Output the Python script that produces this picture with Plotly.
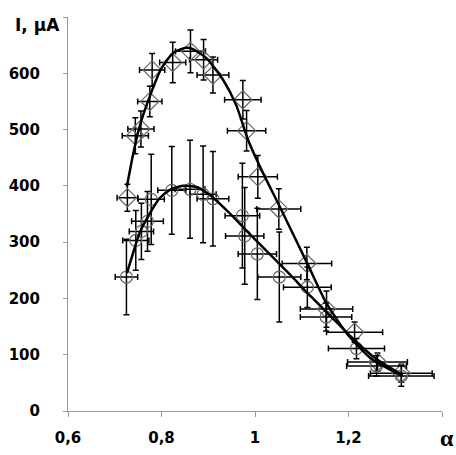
import plotly.graph_objects as go

# Series 1 (diamonds)
d_alpha = [0.727, 0.744, 0.756, 0.775, 0.780, 0.824, 0.862, 0.890, 0.910, 0.974, 0.982,
           1.006, 1.051, 1.111, 1.153, 1.213, 1.262, 1.313]
d_I = [379, 489, 501, 550, 606, 619, 639, 624, 597, 553, 498, 416, 359, 262, 181, 140, 87, 67]
d_Ierr = [24, 32, 32, 27, 29, 36, 38, 36, 32, 34, 36, 38, 36, 29, 32, 18, 16, 16]
d_aerr = [0.022, 0.028, 0.028, 0.026, 0.027, 0.028, 0.032, 0.030, 0.034, 0.039, 0.041,
          0.042, 0.047, 0.053, 0.056, 0.060, 0.064, 0.066]

# Series 2 (circles)
c_alpha = [0.725, 0.745, 0.757, 0.770, 0.778, 0.822, 0.861, 0.889, 0.910, 0.973, 0.978,
           1.005, 1.052, 1.112, 1.152, 1.217, 1.260, 1.313]
c_I = [238, 303, 319, 337, 376, 392, 394, 385, 377, 347, 311, 279, 238, 220, 167, 111, 80, 62]
c_Ierr = [67, 53, 50, 53, 80, 78, 87, 86, 84, 93, 86, 81, 80, 36, 25, 18, 18, 18]
c_aerr = [0.024, 0.028, 0.026, 0.034, 0.028, 0.030, 0.032, 0.028, 0.034, 0.037, 0.041,
          0.041, 0.046, 0.051, 0.055, 0.060, 0.064, 0.070]

# Fitted curves
fd_alpha = [0.726, 0.739, 0.753, 0.775, 0.800, 0.825, 0.850, 0.867, 0.896, 0.932, 0.960,
            0.985, 1.017, 1.053, 1.113, 1.153, 1.199, 1.250, 1.316]
fd_I = [399, 455, 505, 559, 609, 636, 645, 643, 627, 588, 543, 482, 423, 363, 260, 191,
        135, 92, 62]
fc_alpha = [0.726, 0.739, 0.753, 0.775, 0.796, 0.818, 0.846, 0.875, 0.903, 0.946, 0.980,
            1.024, 1.074, 1.120, 1.160, 1.210, 1.260, 1.316]
fc_I = [245, 280, 316, 351, 378, 393, 400, 398, 384, 351, 322, 285, 243, 203, 170, 128,
        92, 64]

y_ticks = [0, 100, 200, 300, 400, 500, 600, 700]
y_labels = ["0", "100", "200", "300", "400", "500", "600", ""]
x_ticks = [0.6, 0.8, 1.0, 1.2, 1.4]
x_labels = ["0,6", "0,8", "1", "1,2", ""]

fig = go.Figure()

err_style = dict(type="data", color="black", thickness=1.5, width=3)

fig.add_trace(go.Scatter(
    x=d_alpha, y=d_I, mode="markers",
    marker=dict(symbol="diamond-open", size=14, color="#666666", line=dict(width=1.2)),
    error_y=dict(array=d_Ierr, **err_style),
    error_x=dict(array=d_aerr, **err_style),
    showlegend=False))

fig.add_trace(go.Scatter(
    x=c_alpha, y=c_I, mode="markers",
    marker=dict(symbol="circle-open", size=12, color="#666666", line=dict(width=1.2)),
    error_y=dict(array=c_Ierr, **err_style),
    error_x=dict(array=c_aerr, **err_style),
    showlegend=False))

fig.add_trace(go.Scatter(x=fd_alpha, y=fd_I, mode="lines",
                         line=dict(color="black", width=2.5, shape="spline", smoothing=0.6),
                         showlegend=False))
fig.add_trace(go.Scatter(x=fc_alpha, y=fc_I, mode="lines",
                         line=dict(color="black", width=2.5, shape="spline", smoothing=0.6),
                         showlegend=False))

tick_font = dict(family="DejaVu Sans", size=15, color="black", weight="bold")

fig.update_layout(
    width=456, height=455,
    margin=dict(l=68, r=14, t=17, b=44),
    plot_bgcolor="white", paper_bgcolor="white",
    xaxis=dict(range=[0.6, 1.4], tickvals=x_ticks, ticktext=x_labels,
               showgrid=False, zeroline=False, showline=True, linecolor="#999999",
               linewidth=1, ticks="outside", ticklen=5, tickcolor="#999999",
               tickfont=tick_font, ticklabelstandoff=8, automargin=False),
    yaxis=dict(range=[0, 700], tickvals=y_ticks, ticktext=y_labels,
               showgrid=False, zeroline=False, showline=True, linecolor="#999999",
               linewidth=1, ticks="outside", ticklen=4, tickcolor="#999999",
               tickfont=tick_font, ticklabelstandoff=20, automargin=False),
    annotations=[
        dict(text="<b>I, µA</b>", xref="paper", yref="y", x=0, y=686,
             xanchor="right", yanchor="middle", xshift=-6, showarrow=False,
             font=dict(family="DejaVu Sans", size=17, color="black")),
        dict(text="<b>α</b>", xref="paper", yref="paper", x=1.0, y=0, xanchor="center",
             yanchor="middle", xshift=5, yshift=-27, showarrow=False,
             font=dict(family="Liberation Serif", size=24, color="black")),
    ],
)

# remove the browser's default page margin so the figure fills the window exactly
fig.write_html("out.html",
               config={"displayModeBar": False},
               post_script="document.body.style.margin='0';"
                           "document.body.style.overflow='hidden';")
